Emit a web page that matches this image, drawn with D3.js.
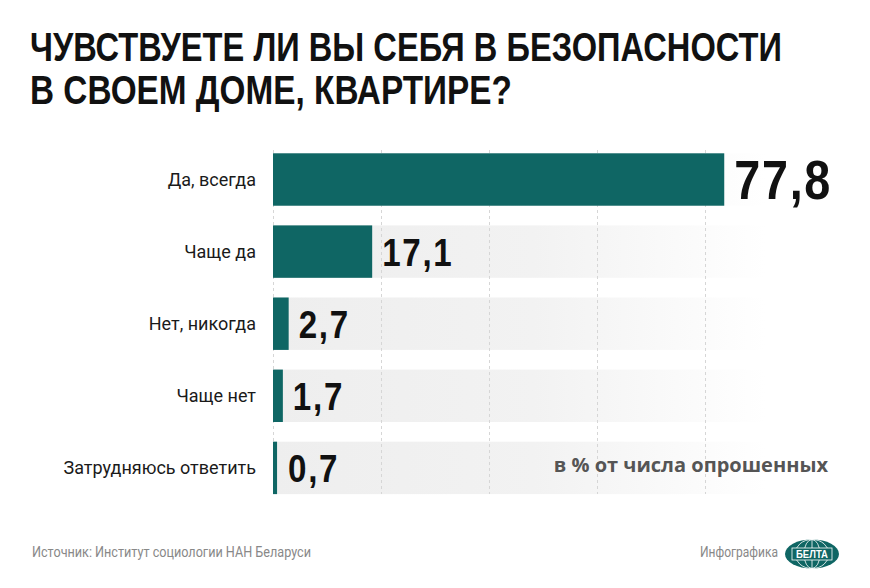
<!DOCTYPE html>
<html>
<head>
<meta charset="utf-8">
<script src="https://cdn.jsdelivr.net/npm/d3@7"></script>
<style>
  html, body { margin: 0; padding: 0; background: #fff; }
  svg { display: block; }
</style>
</head>
<body>
<svg class="chart" width="870" height="588"></svg>
<script>
// data
var categories = ["Да, всегда", "Чаще да", "Нет, никогда", "Чаще нет", "Затрудняюсь ответить"];
var values = [77.8, 17.1, 2.7, 1.7, 0.7];
var gridTicks = [0, 18.6, 37.2, 55.8, 74.4];

var titleLines = ["ЧУВСТВУЕТЕ ЛИ ВЫ СЕБЯ В БЕЗОПАСНОСТИ", "В СВОЕМ ДОМЕ, КВАРТИРЕ?"];
var unitNote = "в % от числа опрошенных";
var sourceText = "Источник: Институт социологии НАН Беларуси";
var creditText = "Инфографика";

var teal = "#0f6664";
var condensed = 0.85; // horizontal squeeze for the bold figures

var svg = d3.select(".chart");

// comma as decimal separator
var ru = d3.formatLocale({ decimal: ",", thousands: " ", grouping: [3], currency: ["", ""] });
var fmt = ru.format(".1f");

var x = d3.scaleLinear()
    .domain([0, 100])
    .range([273, 853]);

var y = d3.scaleBand()
    .domain(categories)
    .range([153.3, 494.1])
    .paddingInner(0.273)
    .paddingOuter(0);

// gradient for the grey row bands
var defs = svg.append("defs");
var grad = defs.append("linearGradient")
    .attr("id", "bandFade")
    .attr("x1", "0%").attr("x2", "100%")
    .attr("y1", "0%").attr("y2", "0%");
grad.append("stop").attr("offset", "0%").attr("stop-color", "#eeeeee");
grad.append("stop").attr("offset", "45%").attr("stop-color", "#f2f2f2");
grad.append("stop").attr("offset", "85%").attr("stop-color", "#ffffff");

// title, squeezed horizontally to the condensed width of the original
var titleWidths = [752, 482];
svg.selectAll(".title")
    .data(titleLines)
    .join("text")
    .attr("class", "title")
    .attr("font-family", "'Liberation Sans', Arial, sans-serif")
    .attr("font-weight", "bold")
    .attr("font-size", "40px")
    .attr("fill", "#111")
    .text(d => d)
    .attr("transform", function (d, i) {
        var k = titleWidths[i] / this.getComputedTextLength();
        return "translate(30," + (61 + i * 43) + ") scale(" + k + ",1)";
    });

// row bands
svg.append("g")
    .selectAll("rect")
    .data(categories)
    .join("rect")
    .attr("x", x(0))
    .attr("y", d => y(d))
    .attr("width", 580)
    .attr("height", y.bandwidth())
    .attr("fill", "url(#bandFade)");

// dashed grid lines
svg.append("g")
    .selectAll("line")
    .data(gridTicks)
    .join("line")
    .attr("x1", d => Math.round(x(d)) + 0.5)
    .attr("x2", d => Math.round(x(d)) + 0.5)
    .attr("y1", 150)
    .attr("y2", 494)
    .attr("stroke", "#d6d6d6")
    .attr("stroke-width", 1)
    .attr("stroke-dasharray", "3,3");

// bars
svg.append("g")
    .selectAll("rect")
    .data(values)
    .join("rect")
    .attr("x", x(0))
    .attr("y", (d, i) => y(categories[i]))
    .attr("width", d => x(d) - x(0))
    .attr("height", y.bandwidth())
    .attr("fill", teal);

// category labels
svg.append("g")
    .selectAll("text")
    .data(categories)
    .join("text")
    .attr("x", 256)
    .attr("y", d => y(d) + y.bandwidth() / 2)
    .attr("dy", "0.36em")
    .attr("text-anchor", "end")
    .attr("font-family", "Roboto, sans-serif")
    .attr("font-size", "18px")
    .attr("fill", "#1a1a1a")
    .text(d => d);

// value labels
svg.append("g")
    .selectAll("text")
    .data(values)
    .join("text")
    .attr("transform", (d, i) => "translate(" + Math.max(x(d) + 10, 288) + "," +
        (y(categories[i]) + y.bandwidth() / 2) + ") scale(" + condensed + ",1)")
    .attr("dy", "0.36em")
    .attr("font-family", "'Liberation Sans', Arial, sans-serif")
    .attr("font-weight", "bold")
    .attr("font-size", (d, i) => i === 0 ? "55px" : "39px")
    .attr("letter-spacing", "2px")
    .attr("fill", "#111")
    .text(d => fmt(d));

// unit note
svg.append("text")
    .attr("x", 828)
    .attr("y", 472)
    .attr("text-anchor", "end")
    .attr("font-family", "'Open Sans', sans-serif")
    .attr("font-weight", "bold")
    .attr("font-size", "20px")
    .attr("fill", "#555")
    .text(unitNote);

// footer
svg.append("text")
    .attr("x", 32)
    .attr("y", 557)
    .attr("font-family", "Roboto, sans-serif")
    .attr("font-size", "14px")
    .attr("textLength", 279)
    .attr("lengthAdjust", "spacingAndGlyphs")
    .attr("fill", "#888")
    .text(sourceText);

svg.append("text")
    .attr("x", 700)
    .attr("y", 557)
    .attr("font-family", "Roboto, sans-serif")
    .attr("font-size", "14px")
    .attr("textLength", 78)
    .attr("lengthAdjust", "spacingAndGlyphs")
    .attr("fill", "#888")
    .text(creditText);

// logo
var logo = svg.append("g").attr("transform", "translate(812, 554)");
logo.append("ellipse")
    .attr("rx", 27).attr("ry", 14.5)
    .attr("fill", teal);
[8, 17].forEach(function (r) {
    logo.append("ellipse")
        .attr("rx", r).attr("ry", 14.5)
        .attr("fill", "none")
        .attr("stroke", "#fff")
        .attr("stroke-width", 0.8);
});
logo.append("line")
    .attr("x1", 0).attr("x2", 0).attr("y1", -14.5).attr("y2", 14.5)
    .attr("stroke", "#fff").attr("stroke-width", 0.8);
logo.append("rect")
    .attr("x", -20).attr("y", -6).attr("width", 40).attr("height", 12)
    .attr("fill", teal)
    .attr("stroke", "#fff").attr("stroke-width", 0.8);
logo.append("text")
    .attr("y", 4)
    .attr("text-anchor", "middle")
    .attr("font-family", "'Liberation Sans', sans-serif")
    .attr("font-weight", "bold")
    .attr("font-size", "10px")
    .attr("textLength", 32)
    .attr("lengthAdjust", "spacingAndGlyphs")
    .attr("fill", "#fff")
    .text("БЕЛТА");
</script>
</body>
</html>
